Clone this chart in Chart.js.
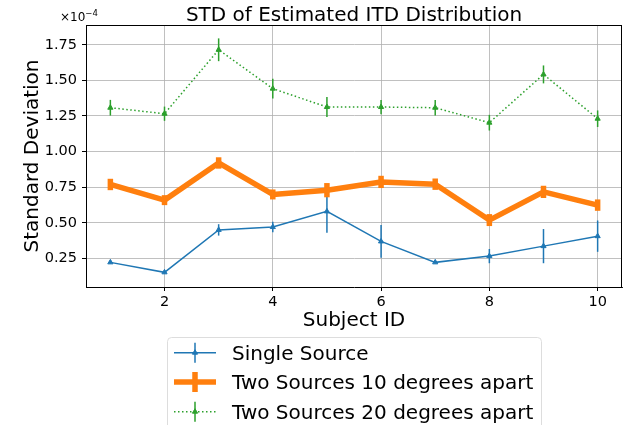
<!DOCTYPE html>
<html>
<head>
<meta charset="utf-8">
<script src="https://cdn.jsdelivr.net/npm/chart.js@4/dist/chart.umd.min.js"></script>
<style>
  html, body { margin: 0; padding: 0; background: #ffffff; }
  #wrap { width: 627px; height: 425px; }
</style>
</head>
<body>
<div id="wrap"><canvas id="c" width="627" height="425"></canvas></div>
<script>
// ---- Data (values in units of 1e-4) ----
const subjects = [1, 2, 3, 4, 5, 6, 7, 8, 9, 10];
const singleMean = [0.222, 0.152, 0.450, 0.470, 0.580, 0.369, 0.222, 0.266, 0.336, 0.406];
const singleErr  = [0.008, 0.008, 0.040, 0.037, 0.150, 0.115, 0.006, 0.050, 0.120, 0.110];
const tenMean    = [0.769, 0.659, 0.920, 0.699, 0.729, 0.787, 0.771, 0.519, 0.717, 0.624];
const tenErr     = [0.040, 0.035, 0.040, 0.035, 0.050, 0.043, 0.040, 0.042, 0.043, 0.040];
const twentyMean = [1.308, 1.266, 1.715, 1.442, 1.313, 1.313, 1.308, 1.203, 1.542, 1.231];
const twentyErr  = [0.055, 0.050, 0.080, 0.070, 0.070, 0.050, 0.055, 0.055, 0.063, 0.058];
const seriesLabels = ["Single Source", "Two Sources 10 degrees apart", "Two Sources 20 degrees apart"];
const xTicks = [2, 4, 6, 8, 10];
const yTicks = [0.25, 0.50, 0.75, 1.00, 1.25, 1.50, 1.75];
const titleText = "STD of Estimated ITD Distribution";
const xTitle = "Subject ID";
const yTitle = "Standard Deviation";

const BLUE = "#1f77b4", ORANGE = "#ff7f0e", GREEN = "#2ca02c";
const FONT = "'DejaVu Sans', 'Liberation Sans', sans-serif";

const errSets = [
  { mean: singleMean, err: singleErr, color: BLUE, width: 1.5 },
  { mean: tenMean, err: tenErr, color: ORANGE, width: 5.5 },
  { mean: twentyMean, err: twentyErr, color: GREEN, width: 1.5 }
];

function pts(mean) { return subjects.map((s, i) => ({ x: s, y: mean[i] })); }

function tri(ctx, x, y, r, color) {
  ctx.save();
  ctx.fillStyle = color; ctx.strokeStyle = color; ctx.lineWidth = 1;
  ctx.beginPath();
  ctx.moveTo(x, y - r);
  ctx.lineTo(x + r * 0.866, y + r * 0.5);
  ctx.lineTo(x - r * 0.866, y + r * 0.5);
  ctx.closePath(); ctx.fill(); ctx.stroke();
  ctx.restore();
}

const errorBarPlugin = {
  id: 'errbars',
  beforeDatasetDraw(chart, args) {
    const set = errSets[args.index];
    if (!set) return;
    const ctx = chart.ctx, xs = chart.scales.x, ys = chart.scales.y;
    ctx.save();
    ctx.strokeStyle = set.color; ctx.lineWidth = set.width; ctx.lineCap = 'butt';
    subjects.forEach((s, i) => {
      const px = xs.getPixelForValue(s);
      ctx.beginPath();
      ctx.moveTo(px, ys.getPixelForValue(set.mean[i] - set.err[i]));
      ctx.lineTo(px, ys.getPixelForValue(set.mean[i] + set.err[i]));
      ctx.stroke();
    });
    ctx.restore();
  }
};

const decorPlugin = {
  id: 'decor',
  afterDraw(chart) {
    const ctx = chart.ctx, a = chart.chartArea;
    ctx.save();
    // top & right spines
    ctx.strokeStyle = '#000'; ctx.lineWidth = 1;
    ctx.beginPath();
    ctx.moveTo(a.left, a.top + 0.5); ctx.lineTo(a.right, a.top + 0.5);
    ctx.moveTo(a.right - 0.5, a.top); ctx.lineTo(a.right - 0.5, a.bottom);
    ctx.stroke();
    // title
    ctx.fillStyle = '#000';
    ctx.textAlign = 'center'; ctx.textBaseline = 'alphabetic';
    ctx.font = "20px " + FONT;
    ctx.fillText(titleText, (a.left + a.right) / 2, 21);
    // x title
    ctx.fillText(xTitle, (a.left + a.right) / 2, 326);
    // y title
    ctx.save();
    ctx.translate(37.5, (a.top + a.bottom) / 2);
    ctx.rotate(-Math.PI / 2);
    ctx.fillText(yTitle, 0, 0);
    ctx.restore();
    // offset text
    ctx.textAlign = 'left';
    ctx.font = "12px " + FONT;
    ctx.fillText("\u00d710", 60, 21);
    const w = ctx.measureText("\u00d710").width;
    ctx.font = "8.5px " + FONT;
    ctx.fillText("\u22124", 60 + w, 16);

    // legend
    const lx = 167.5, ly = 337.5, lw = 374, lh = 100;
    ctx.fillStyle = 'rgba(255,255,255,0.8)';
    ctx.strokeStyle = '#dddddd'; ctx.lineWidth = 1;
    ctx.beginPath();
    ctx.roundRect(lx, ly, lw, lh, 4);
    ctx.fill(); ctx.stroke();
    const rows = [352.7, 382, 411.7];
    const hx0 = 174, hx1 = 216, hc = 195;
    // blue
    ctx.strokeStyle = BLUE; ctx.lineWidth = 1.5; ctx.setLineDash([]);
    ctx.beginPath(); ctx.moveTo(hx0, rows[0]); ctx.lineTo(hx1, rows[0]); ctx.stroke();
    ctx.beginPath(); ctx.moveTo(hc, rows[0] - 10); ctx.lineTo(hc, rows[0] + 10); ctx.stroke();
    tri(ctx, hc, rows[0], 3, BLUE);
    // orange
    ctx.strokeStyle = ORANGE; ctx.lineWidth = 5.5;
    ctx.beginPath(); ctx.moveTo(hx0, rows[1]); ctx.lineTo(hx1, rows[1]); ctx.stroke();
    ctx.beginPath(); ctx.moveTo(hc, rows[1] - 10); ctx.lineTo(hc, rows[1] + 10); ctx.stroke();
    // green
    ctx.strokeStyle = GREEN; ctx.lineWidth = 1.5; ctx.setLineDash([1.5, 2.5]);
    ctx.beginPath(); ctx.moveTo(hx0, rows[2]); ctx.lineTo(hx1, rows[2]); ctx.stroke();
    ctx.setLineDash([]);
    ctx.beginPath(); ctx.moveTo(hc, rows[2] - 10); ctx.lineTo(hc, rows[2] + 10); ctx.stroke();
    tri(ctx, hc, rows[2], 3, GREEN);
    // labels
    ctx.fillStyle = '#000'; ctx.font = "20px " + FONT;
    ctx.textAlign = 'left'; ctx.textBaseline = 'alphabetic';
    seriesLabels.forEach((t, i) => ctx.fillText(t, 232, rows[i] + 7.3));
    ctx.restore();
  }
};

new Chart(document.getElementById('c'), {
  type: 'line',
  data: {
    datasets: [
      { label: seriesLabels[0], data: pts(singleMean), borderColor: BLUE, backgroundColor: BLUE,
        borderWidth: 1.5, pointStyle: 'triangle', pointRadius: 3, pointBorderWidth: 1,
        pointBackgroundColor: BLUE, pointBorderColor: BLUE, order: 3, tension: 0 },
      { label: seriesLabels[1], data: pts(tenMean), borderColor: ORANGE, backgroundColor: ORANGE,
        borderWidth: 5.5, pointRadius: 0, borderJoinStyle: 'round', order: 2, tension: 0 },
      { label: seriesLabels[2], data: pts(twentyMean), borderColor: GREEN, backgroundColor: GREEN,
        borderWidth: 1.5, borderDash: [1.5, 2.5], pointStyle: 'triangle', pointRadius: 3, pointBorderWidth: 1,
        pointBackgroundColor: GREEN, pointBorderColor: GREEN, order: 1, tension: 0 }
    ]
  },
  options: {
    responsive: false,
    animation: false,
    devicePixelRatio: 1,
    layout: { padding: { left: 0, right: 3, top: 25, bottom: 0 } },
    plugins: { legend: { display: false }, title: { display: false }, tooltip: { enabled: false } },
    scales: {
      x: {
        type: 'linear', min: 0.55, max: 10.45,
        afterBuildTicks(s) { s.ticks = xTicks.map(v => ({ value: v })); },
        afterFit(s) { s.height = 138; },
        grid: { color: '#b0b0b0', lineWidth: 0.8, drawTicks: true, tickLength: 4, tickColor: '#000', tickWidth: 1 },
        border: { display: true, color: '#000', width: 1 },
        ticks: { color: '#000', padding: 3, font: { family: FONT, size: 14.5 }, maxRotation: 0,
                 callback: v => String(v) }
      },
      y: {
        type: 'linear', min: 0.049, max: 1.889,
        afterBuildTicks(s) { s.ticks = yTicks.map(v => ({ value: v })); },
        afterFit(s) { s.width = 86; },
        grid: { color: '#b0b0b0', lineWidth: 0.8, drawTicks: true, tickLength: 4, tickColor: '#000', tickWidth: 1 },
        border: { display: true, color: '#000', width: 1 },
        ticks: { color: '#000', padding: 5, font: { family: FONT, size: 14.5 },
                 callback: v => Number(v).toFixed(2) }
      }
    }
  },
  plugins: [errorBarPlugin, decorPlugin]
});
</script>
</body>
</html>
